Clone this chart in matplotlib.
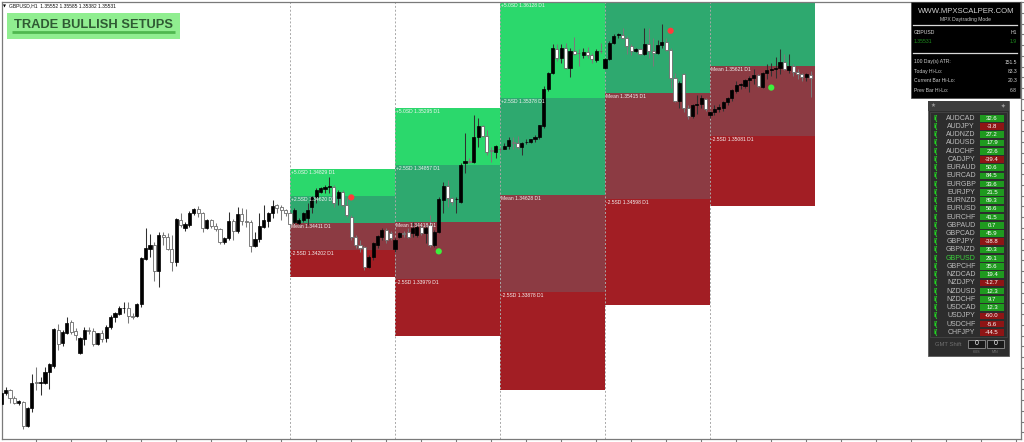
import matplotlib
matplotlib.use("Agg")
import matplotlib.pyplot as plt
from matplotlib.patches import Rectangle
import numpy as np

plt.rcParams['font.family'] = ['Liberation Sans', 'DejaVu Sans']

# ---------------- data ----------------
first_bar = -66
opens = [1.33016,1.33101,1.33124,1.33062,1.33024,1.33032,1.32847,1.32985,1.33186,1.33178,
 1.33178,1.33263,1.33309,1.33586,1.33486,1.33563,1.33648,1.33578,1.33409,1.33517,
 1.33586,1.33578,1.33478,1.33563,1.33524,1.33609,1.33686,1.33709,1.33755,1.33755,
 1.33694,1.33694,1.33786,1.34133,1.34210,1.34241,1.34040,1.34318,1.34302,1.34210,
 1.34110,1.34433,1.34371,1.34395,1.34487,1.34518,1.34487,1.34371,1.34433,1.34387,
 1.34364,1.34264,1.34294,1.34425,1.34348,1.34479,1.34425,1.34418,1.34233,1.34287,
 1.34379,1.34425,1.34487,1.34549,1.34533,1.34510,
 1.34487,1.34418,1.34410,1.34433,1.34448,1.34533,1.34610,1.34649,1.34672,1.34687,
 1.34687,1.34602,1.34649,1.34549,1.34456,1.34302,1.34241,1.34225,1.34071,1.34148,
 1.34241,1.34302,1.34356,1.34333,
 1.34210,1.34302,1.34333,1.34341,1.34333,1.34318,1.34379,1.34333,1.34395,1.34241,
 1.34341,1.34587,1.34695,1.34602,1.34595,1.34572,1.34872,1.34887,1.34880,1.35072,
 1.35157,1.35080,1.34972,1.34957,
 1.34987,1.34987,1.35003,1.35041,1.35026,1.34995,1.35034,1.35034,1.35057,1.35072,
 1.35157,1.35449,1.35573,1.35757,1.35688,1.35765,1.35611,1.35742,1.35727,1.35711,
 1.35734,1.35711,1.35673,1.35742,
 1.35611,1.35680,1.35804,1.35865,1.35865,1.35842,1.35781,1.35742,1.35757,1.35719,
 1.35796,1.35742,1.35727,1.35788,1.35811,1.35750,1.35534,1.35357,1.35565,1.35303,
 1.35234,1.35319,1.35334,1.35372,
 1.35249,1.35265,1.35288,1.35303,1.35342,1.35380,1.35434,1.35480,1.35473,1.35519,
 1.35534,1.35557,1.35465,1.35573,1.35596,1.35603,1.35611,1.35657,1.35596,1.35627,
 1.35580,1.35565,1.35542,1.35552]
highs = [1.33109,1.33147,1.33132,1.33078,1.33047,1.33039,1.32993,1.33247,1.33301,1.33224,
 1.33301,1.33332,1.33601,1.33632,1.33586,1.33686,1.33663,1.33601,1.33532,1.33609,
 1.33609,1.33601,1.33563,1.33586,1.33625,1.33702,1.33725,1.33771,1.33802,1.33802,
 1.33717,1.33794,1.34148,1.34371,1.34325,1.34264,1.34341,1.34341,1.34333,1.34318,
 1.34448,1.34487,1.34418,1.34502,1.34525,1.34541,1.34495,1.34441,1.34441,1.34410,
 1.34371,1.34302,1.34495,1.34441,1.34533,1.34525,1.34518,1.34433,1.34341,1.34487,
 1.34549,1.34495,1.34587,1.34556,1.34549,1.34518,
 1.34502,1.34525,1.34448,1.34495,1.34564,1.34618,1.34679,1.34687,1.34703,1.34764,
 1.34703,1.34664,1.34664,1.34602,1.34472,1.34318,1.34279,1.34233,1.34164,1.34264,
 1.34318,1.34371,1.34371,1.34348,
 1.34294,1.34341,1.34348,1.34371,1.34418,1.34410,1.34395,1.34395,1.34472,1.34356,
 1.34610,1.34726,1.34741,1.34610,1.34610,1.34872,1.35103,1.34911,1.35242,1.35226,
 1.35172,1.35126,1.34995,1.35011,
 1.34995,1.35026,1.35072,1.35072,1.35080,1.35034,1.35064,1.35064,1.35088,1.35172,
 1.35473,1.35580,1.35796,1.35796,1.35796,1.35804,1.35765,1.35850,1.35757,1.35765,
 1.35773,1.35727,1.35757,1.35804,
 1.35688,1.35819,1.35873,1.35881,1.35919,1.35858,1.35796,1.35765,1.35765,1.35919,
 1.35917,1.35842,1.35827,1.35950,1.35842,1.35765,1.35573,1.35511,1.35573,1.35319,
 1.35334,1.35396,1.35396,1.35380,
 1.35280,1.35319,1.35334,1.35357,1.35388,1.35449,1.35511,1.35496,1.35526,1.35550,
 1.35603,1.35565,1.35580,1.35642,1.35650,1.35696,1.35757,1.35719,1.35719,1.35642,
 1.35603,1.35573,1.35573,1.35585]
lows = [1.33009,1.33086,1.33024,1.33016,1.33009,1.32824,1.32839,1.32955,1.33124,1.33086,
 1.33170,1.33132,1.33293,1.33432,1.33463,1.33555,1.33555,1.33509,1.33401,1.33471,
 1.33555,1.33463,1.33471,1.33494,1.33494,1.33594,1.33648,1.33702,1.33717,1.33640,
 1.33671,1.33686,1.33763,1.34125,1.34148,1.33963,1.33917,1.34241,1.34202,1.34040,
 1.34079,1.34379,1.34348,1.34379,1.34472,1.34456,1.34341,1.34364,1.34371,1.34348,
 1.34248,1.34248,1.34279,1.34279,1.34333,1.34395,1.34379,1.34187,1.34225,1.34264,
 1.34371,1.34379,1.34448,1.34487,1.34433,1.34464,
 1.34379,1.34402,1.34395,1.34418,1.34395,1.34487,1.34564,1.34641,1.34641,1.34641,
 1.34533,1.34549,1.34533,1.34456,1.34279,1.34217,1.34187,1.34048,1.34063,1.34125,
 1.34217,1.34279,1.34256,1.34279,
 1.34187,1.34294,1.34302,1.34294,1.34302,1.34302,1.34318,1.34256,1.34225,1.34225,
 1.34333,1.34487,1.34533,1.34549,1.34487,1.34564,1.34795,1.34872,1.34872,1.34995,
 1.35072,1.34934,1.34880,1.34911,
 1.34964,1.34980,1.34987,1.34987,1.34980,1.34934,1.35018,1.35026,1.35041,1.35064,
 1.35149,1.35434,1.35565,1.35665,1.35650,1.35603,1.35542,1.35711,1.35627,1.35688,
 1.35688,1.35650,1.35657,1.35727,
 1.35603,1.35673,1.35796,1.35842,1.35834,1.35719,1.35711,1.35734,1.35711,1.35711,
 1.35688,1.35627,1.35719,1.35765,1.35742,1.35457,1.35342,1.35303,1.35265,1.35218,
 1.35226,1.35257,1.35303,1.35280,
 1.35226,1.35242,1.35265,1.35280,1.35319,1.35357,1.35419,1.35449,1.35457,1.35426,
 1.35488,1.35465,1.35457,1.35526,1.35550,1.35534,1.35565,1.35596,1.35573,1.35550,
 1.35526,1.35511,1.35511,1.35382]
closes = [1.33101,1.33124,1.33062,1.33024,1.33039,1.32847,1.32985,1.33178,1.33178,1.33186,
 1.33263,1.33324,1.33594,1.33478,1.33571,1.33640,1.33571,1.33548,1.33524,1.33586,
 1.33578,1.33478,1.33563,1.33517,1.33609,1.33686,1.33717,1.33755,1.33760,1.33694,
 1.33690,1.33786,1.34140,1.34217,1.34241,1.34040,1.34318,1.34302,1.34210,1.34110,
 1.34441,1.34395,1.34402,1.34487,1.34518,1.34487,1.34371,1.34433,1.34387,1.34364,
 1.34264,1.34294,1.34425,1.34348,1.34479,1.34425,1.34418,1.34233,1.34287,1.34387,
 1.34433,1.34487,1.34541,1.34525,1.34510,1.34487,
 1.34402,1.34510,1.34433,1.34487,1.34510,1.34610,1.34664,1.34679,1.34687,1.34695,
 1.34564,1.34649,1.34549,1.34472,1.34302,1.34241,1.34217,1.34071,1.34148,1.34256,
 1.34310,1.34356,1.34279,1.34294,
 1.34279,1.34333,1.34330,1.34302,1.34371,1.34379,1.34333,1.34371,1.34241,1.34341,
 1.34595,1.34695,1.34602,1.34572,1.34600,1.34857,1.34887,1.34883,1.35072,1.35157,
 1.35080,1.34957,1.34968,1.35003,
 1.34980,1.35003,1.35049,1.35026,1.34995,1.35031,1.35038,1.35057,1.35072,1.35165,
 1.35449,1.35573,1.35765,1.35688,1.35765,1.35611,1.35742,1.35719,1.35723,1.35734,
 1.35711,1.35680,1.35742,1.35738,
 1.35680,1.35804,1.35858,1.35869,1.35842,1.35781,1.35742,1.35757,1.35719,1.35796,
 1.35742,1.35727,1.35788,1.35811,1.35750,1.35534,1.35357,1.35496,1.35303,1.35234,
 1.35326,1.35334,1.35380,1.35295,
 1.35265,1.35295,1.35311,1.35349,1.35380,1.35442,1.35480,1.35488,1.35519,1.35534,
 1.35557,1.35473,1.35573,1.35596,1.35603,1.35611,1.35657,1.35603,1.35627,1.35580,
 1.35565,1.35542,1.35560,1.35531]

# daily SD zones: start bar, mean, 2.5SD step; labels of the levels shown on the chart
zone_start = [0, 24, 48, 72, 96]
zone_mean = [1.34411, 1.34418, 1.34628, 1.35415, 1.35621]
zone_step = [0.00209, 0.00439, 0.00750, 0.00817, 0.00540]
zone_labels = [
    ["+5.0SD 1.34829 D1", "+2.5SD 1.34620 D1", "Mean 1.34411 D1", "-2.5SD 1.34202 D1"],
    ["+5.0SD 1.35295 D1", "+2.5SD 1.34857 D1", "Mean 1.34418 D1", "-2.5SD 1.33979 D1"],
    ["+5.0SD 1.36128 D1", "+2.5SD 1.35378 D1", "Mean 1.34628 D1", "-2.5SD 1.33878 D1"],
    [None, None, "Mean 1.35415 D1", "-2.5SD 1.34598 D1"],
    [None, None, "Mean 1.35621 D1", "-2.5SD 1.35081 D1"],
]
sig_bar = [14, 87, 34, 110]
sig_price = [1.34610, 1.35895, 1.34194, 1.35457]
sig_kind = ["sell", "sell", "buy", "buy"]

title_text = "TRADE BULLISH SETUPS"
header_text = "GBPUSD,H1  1.35552 1.35585 1.35382 1.35531"

info_site = "WWW.MPXSCALPER.COM"
info_mode = "MPX Daytrading Mode"
info_symbol, info_tf = "GBPUSD", "H1"
info_price, info_spread = "1.35531", "1.9"
info_rows = ["100 Day(s) ATR:", "Today Hi-Lo:", "Current Bar Hi-Lo:", "Prev Bar Hi-Lo:"]
info_vals = ["151.5", "83.3", "20.3", "6.8"]

pairs = ["AUDCAD","AUDJPY","AUDNZD","AUDUSD","AUDCHF","CADJPY","EURAUD","EURCAD","EURGBP",
         "EURJPY","EURNZD","EURUSD","EURCHF","GBPAUD","GBPCAD","GBPJPY","GBPNZD","GBPUSD",
         "GBPCHF","NZDCAD","NZDJPY","NZDUSD","NZDCHF","USDCAD","USDJPY","USDCHF","CHFJPY"]
strength = [32.6,-3.8,27.2,17.9,22.6,-39.4,50.6,84.5,33.6,21.5,89.3,56.6,41.5,0.7,45.9,
            -38.8,30.3,29.1,35.6,19.4,-12.7,12.3,9.7,12.3,-60.0,-5.6,-44.5]
current_pair = "GBPUSD"

# ---------------- layout ----------------
W, H = 1024, 442
BAR_PX = 4.375          # pixels per bar
X0 = 290.0              # pixel x of bar 0
P0, PPX = 1.36127, 0.000077   # price at pixel row 0, price per pixel
FL, FR, FT, FB = 2, 1021, 2, 439   # chart frame in pixels

fig = plt.figure(figsize=(W / 100, H / 100), dpi=100)
fig.patch.set_facecolor('white')
ax = fig.add_axes([FL / W, (H - FB) / H, (FR - FL) / W, (FB - FT) / H])
ax.set_xlim((FL - X0) / BAR_PX, (FR - X0) / BAR_PX)
ymin, ymax = P0 - PPX * FB, P0 - PPX * FT
ax.set_ylim(ymin, ymax)
ax.set_facecolor('white')
for s in ax.spines.values():
    s.set_color('#7a7a7a')
    s.set_linewidth(0.9)
ax.set_xticks(np.arange(-58, 170, 8))
ax.set_yticks(np.arange(1.32797, 1.3615, 0.00083))
ax.tick_params(axis='x', bottom=True, top=False, direction='out', length=2.5,
               width=0.8, color='#7a7a7a', labelbottom=False)
ax.tick_params(axis='y', left=False, right=True, direction='out', length=2.5,
               width=0.8, color='#7a7a7a', labelleft=False, labelright=False)

# zones
zone_cols = ['#2bd86c', '#2ea96f', '#8c3b43', '#a21e24']
for d in range(len(zone_start)):
    m, st = zone_mean[d], zone_step[d]
    lv = [m + 2 * st, m + st, m, m - st, m - 2 * st]
    for j in range(4):
        ax.add_patch(Rectangle((zone_start[d], lv[j + 1]), 24, lv[j] - lv[j + 1],
                               facecolor=zone_cols[j], edgecolor='none', zorder=1))
    for j in range(4):
        if zone_labels[d][j] is None:
            continue
        ytxt = min(lv[j], ymax) - PPX * 0.8
        ax.text(zone_start[d] + 0.15, ytxt, zone_labels[d][j], fontsize=3.6,
                color='#f2f2f2', ha='left', va='top', zorder=4)
    ax.axvline(zone_start[d], color='#a8a8a8', lw=0.7, ls=(0, (2, 2)), zorder=2)

# candles
o = np.array(opens); h = np.array(highs); l = np.array(lows); c = np.array(closes)
k = np.arange(first_bar, first_bar + len(o))
up = c >= o
ax.vlines(k[up], l[up], h[up], color='#303030', lw=0.75, zorder=3)
ax.vlines(k[~up], l[~up], h[~up], color='#7a7a7a', lw=0.75, zorder=3)
ax.bar(k[up], (c - o)[up], bottom=o[up], width=0.7, color='black', edgecolor='black',
       lw=0.5, zorder=3.5)
ax.bar(k[~up], (o - c)[~up], bottom=c[~up], width=0.7, color='white', edgecolor='#6a6a6a',
       lw=0.6, zorder=3.5)

# signal dots
for b, p, kind in zip(sig_bar, sig_price, sig_kind):
    ax.scatter([b], [p], s=20, color='#ff3b3b' if kind == 'sell' else '#3df03d',
               edgecolors='none', zorder=5)

# ---------------- overlay in pixel coordinates ----------------
ov = fig.add_axes([0, 0, 1, 1], zorder=5)
ov.set_xlim(0, W)
ov.set_ylim(H, 0)
ov.axis('off')
ov.patch.set_alpha(0)

ov.text(3, 6.2, "\u25BC", fontsize=2.8, color='black', ha='left', va='center',
        family=['DejaVu Sans'])
ov.text(9, 6.2, header_text, fontsize=3.6, color='#111111', ha='left', va='center')

ov.add_patch(Rectangle((7, 13), 173, 25.5, facecolor='#90ee90', edgecolor='none'))
ov.plot([12, 175], [32, 32], color='#4fb84f', lw=2.0, solid_capstyle='butt')
ov.text(94, 24.5, title_text, fontsize=9.3, fontweight='bold', color='#2f5a33',
        ha='center', va='center')

# info panel
ov.add_patch(Rectangle((910.5, 2), 109.5, 95.5, facecolor='black', edgecolor='#444444', lw=0.5))
ov.text(966, 11.5, info_site, fontsize=5.6, color='#d0d0d0', ha='center', va='center')
ov.text(966, 19.5, info_mode, fontsize=3.6, color='#c8c8c8', ha='center', va='center')
ov.plot([913, 1017], [24.5, 24.5], color='#d8d8d8', lw=0.9)
ov.text(914, 32, info_symbol, fontsize=3.7, color='#d8d8d8', ha='left', va='center')
ov.text(1017, 32, info_tf, fontsize=3.7, color='#d8d8d8', ha='right', va='center')
ov.text(914, 41.5, info_price, fontsize=3.7, color='#1f8f1f', ha='left', va='center')
ov.text(1017, 41.5, info_spread, fontsize=3.7, color='#1f8f1f', ha='right', va='center')
ov.plot([913, 1017], [53, 53], color='#d8d8d8', lw=0.9)
for i, (lab, val) in enumerate(zip(info_rows, info_vals)):
    yy = 62 + 9.5 * i
    ov.text(914, yy, lab, fontsize=3.6, color='#d0d0d0', ha='left', va='center')
    ov.text(1017, yy, val, fontsize=3.6, color='#d0d0d0', ha='right', va='center')

# currency strength panel
PL, PR, PT, PB = 928, 1009, 101, 356
ov.add_patch(Rectangle((PL, PT), PR - PL, PB - PT, facecolor='#2d2d2d', edgecolor='#5a5a5a', lw=0.6))
ov.add_patch(Rectangle((PL, PT), PR - PL, 9.5, facecolor='#3e3e3e', edgecolor='none'))
ov.add_patch(Rectangle((PL + 2, 112), PR - PL - 4, 225, facecolor='none', edgecolor='#4a4a4a', lw=0.5))
ov.text(PL + 5, PT + 4.8, "\u2605", fontsize=4, color='#9a9a9a', ha='center', va='center',
        family=['DejaVu Sans'])
ov.text(PR - 6, PT + 4.8, "\u2726", fontsize=4, color='#9a9a9a', ha='center', va='center',
        family=['DejaVu Sans'])
row_y = np.linspace(118.3, 332.3, len(pairs))
for yy, name, val in zip(row_y, pairs, strength):
    ov.text(933, yy, "I(", fontsize=4.8, fontweight='bold', color='#22dd22', ha='left', va='center')
    ov.text(961, yy, name, fontsize=5.0, color='#3bd23b' if name == current_pair else '#bdbdbd',
            ha='center', va='center')
    ov.add_patch(Rectangle((980, yy - 3.3), 24, 6.6,
                           facecolor='#1f9a1f' if val >= 0 else '#8e1515', edgecolor='none'))
    ov.text(992, yy, f"{val:.1f}", fontsize=4.3, color='white', ha='center', va='center')
ov.text(935, 344, "GMT Shift", fontsize=4.2, color='#707070', ha='left', va='center')
for bx, lab in [(968, "HRS"), (987, "MIN")]:
    ov.add_patch(Rectangle((bx, 339.5), 17, 8.5, facecolor='#1a1a1a', edgecolor='#909090', lw=0.6))
    ov.text(bx + 8.5, 343.8, "0", fontsize=5, color='white', ha='center', va='center')
    ov.text(bx + 8.5, 351.8, lab, fontsize=2.6, color='#777777', ha='center', va='center')

fig.savefig("out.png", dpi=100)
